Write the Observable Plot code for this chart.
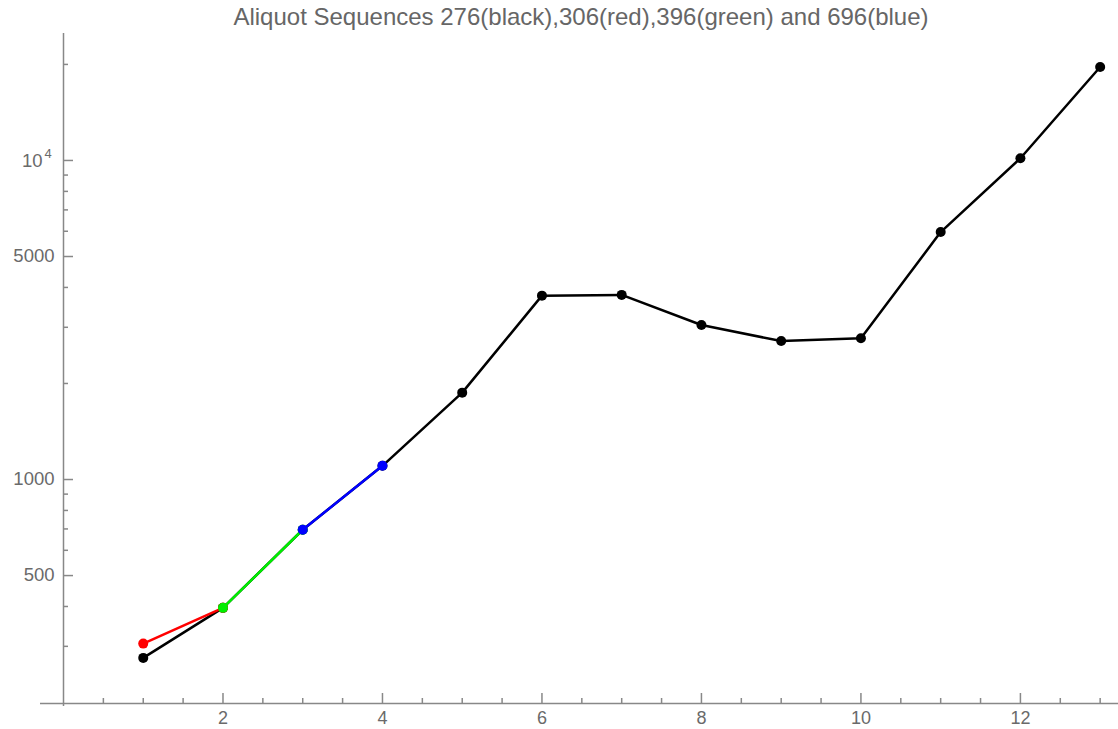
<!DOCTYPE html>
<html>
<head>
<meta charset="utf-8">
<script src="https://cdn.jsdelivr.net/npm/d3@7"></script>
<script src="https://cdn.jsdelivr.net/npm/@observablehq/plot@0.6"></script>
<style>
  html, body { margin: 0; padding: 0; background: #fff; }
  #wrap { position: relative; width: 1118px; height: 729px; }
  #title { position: absolute; top: 3px; left: 44px; width: 1074px; text-align: center; white-space: nowrap;
    font-family: "Liberation Sans", Arial, sans-serif; font-size: 24px; color: #666; line-height: 28px; }
</style>
</head>
<body>
<div id="wrap">
  <div id="title">Aliquot Sequences 276(black),306(red),396(green) and 696(blue)</div>
</div>
<script>
// Data
const steps276 = [1, 2, 3, 4, 5, 6, 7, 8, 9, 10, 11, 12, 13];
const seq276 = [276, 396, 696, 1104, 1872, 3770, 3790, 3050, 2716, 2772, 5964, 10164, 19628];
const steps306 = [1, 2];
const seq306 = [306, 396];
const steps396 = [2, 3];
const seq396 = [396, 696];
const steps696 = [3, 4];
const seq696 = [696, 1104];

const xMajorTicks = [2, 4, 6, 8, 10, 12];
const xMinorTicks = [0.5, 1, 1.5, 2.5, 3, 3.5, 4.5, 5, 5.5, 6.5, 7, 7.5, 8.5, 9, 9.5, 10.5, 11, 11.5, 12.5, 13];
const yMajorTicks = [500, 1000, 5000, 10000];
const yPlainTicks = [500, 1000, 5000];
const yPlainLabels = ["500", "1000", "5000"];
const yPowerTicks = [10000];
const yPowerBase = ["10"];
const yPowerExp = ["4"];
const yMinorTicks = [300, 400, 600, 700, 800, 900, 2000, 3000, 4000, 6000, 7000, 8000, 9000, 20000];

const toRows = (xs, ys) => xs.map((x, i) => ({x, y: ys[i]}));
const series = [
  {rows: toRows(steps276, seq276), color: "#000000"},
  {rows: toRows(steps306, seq306), color: "#ff0000"},
  {rows: toRows(steps396, seq396), color: "#00ee00"},
  {rows: toRows(steps696, seq696), color: "#0000ff"}
];

const axisColor = "#888";
const labelColor = "#6a6a6a";
const font = "Liberation Sans, Arial, sans-serif";

const marks = [
  // axis lines
  Plot.ruleY([198.6], {stroke: axisColor, strokeWidth: 1.5, insetLeft: -23}),
  Plot.ruleX([0], {stroke: axisColor, strokeWidth: 1.5, insetBottom: -3}),
  // ticks (inward)
  Plot.axisX(xMajorTicks, {tickSize: -10, tickFormat: () => "", label: null, stroke: axisColor, strokeWidth: 1.5}),
  Plot.axisX(xMinorTicks, {tickSize: -5, tickFormat: () => "", label: null, stroke: axisColor, strokeWidth: 1.5}),
  Plot.axisX(xMajorTicks, {tickSize: 0, tickPadding: 8, label: null, fill: labelColor, fontSize: 18, fontFamily: font}),
  Plot.axisY(yMajorTicks, {tickSize: -10, tickFormat: () => "", label: null, stroke: axisColor, strokeWidth: 1.5}),
  Plot.axisY(yMinorTicks, {tickSize: -5, tickFormat: () => "", label: null, stroke: axisColor, strokeWidth: 1.5}),
  Plot.axisY(yPlainTicks, {tickSize: 0, tickPadding: 9, label: null, fill: labelColor, fontSize: 18.5, fontFamily: font,
    tickFormat: (d) => yPlainLabels[yPlainTicks.indexOf(d)]}),
  Plot.text(yPowerTicks, {y: (d) => d, text: (d, i) => yPowerBase[i], frameAnchor: "left",
    textAnchor: "end", dx: -21, dy: 1, fontSize: 18.5, fill: labelColor, fontFamily: font}),
  Plot.text(yPowerTicks, {y: (d) => d, text: (d, i) => yPowerExp[i], frameAnchor: "left",
    textAnchor: "start", dx: -19, dy: -7, fontSize: 13, fill: labelColor, fontFamily: font})
];
for (const s of series) {
  marks.push(Plot.line(s.rows, {x: "x", y: "y", stroke: s.color, strokeWidth: 2.5}));
  marks.push(Plot.dot(s.rows, {x: "x", y: "y", fill: s.color, r: 5}));
}

const chart = Plot.plot({
  width: 1118,
  height: 729,
  marginLeft: 63,
  marginRight: 0,
  marginTop: 33,
  marginBottom: 26,
  style: {background: "transparent", fontFamily: font},
  x: {domain: [0, 13.23], axis: null},
  y: {type: "log", domain: [198.6, 25000], axis: null},
  marks
});
chart.style.position = "absolute";
chart.style.left = "0";
chart.style.top = "0";
document.getElementById("wrap").appendChild(chart);
</script>
</body>
</html>
